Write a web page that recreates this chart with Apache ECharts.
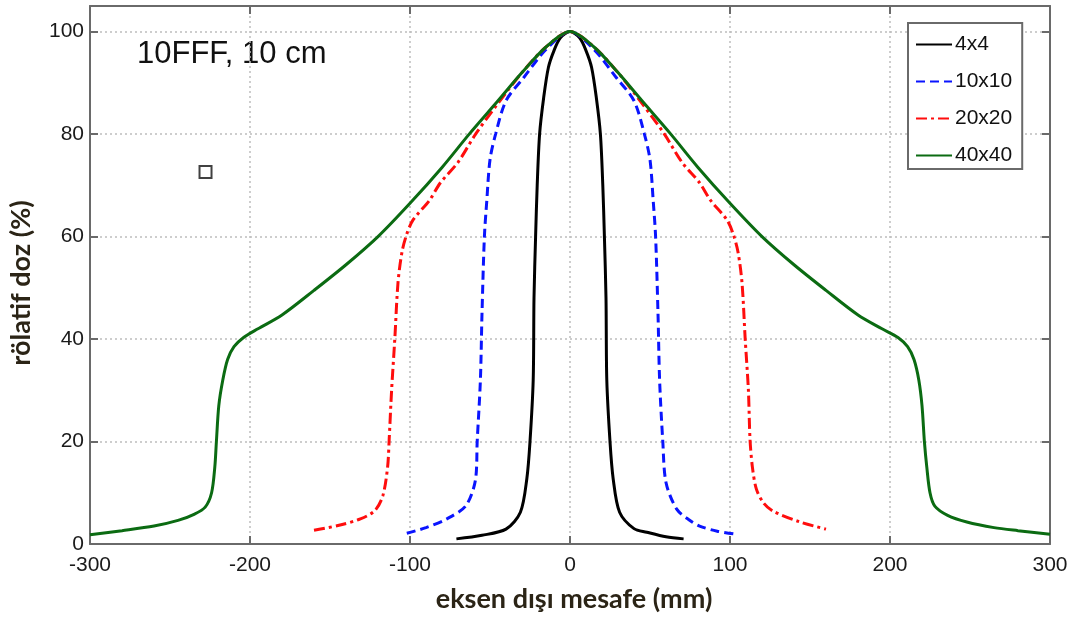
<!DOCTYPE html>
<html>
<head>
<meta charset="utf-8">
<script src="https://cdn.jsdelivr.net/npm/echarts@6/dist/echarts.min.js"></script>
<style>
  html, body { margin: 0; padding: 0; background: #fff; }
  #chart { width: 1079px; height: 618px; }
</style>
</head>
<body>
<div id="chart"></div>
<script>
// Off-axis profiles, 10FFF at 10 cm depth: [mm, %]
const field4x4 = [
  [-71, 1], [-55, 1.7], [-40, 2.9], [-31, 6.2], [-27, 12.7], [-25, 20], [-23, 32],
  [-22.5, 48], [-21.5, 60], [-20.5, 70], [-19, 80], [-16.5, 87], [-13.5, 93],
  [-10, 96.3], [-6, 98.8], [0, 100], [6, 98.8], [10, 96.3], [13.5, 93], [16.5, 87],
  [19, 80], [20.5, 70], [21.5, 60], [22.5, 48], [23, 32], [25, 20], [27, 12.7],
  [31, 6.2], [40, 3], [48, 2.3], [60, 1.4], [71, 1]
];
const field10x10 = [
  [-102, 2.1], [-90, 3.2], [-77, 4.9], [-65, 7.5], [-59, 12.7], [-58, 20], [-56, 32],
  [-55, 45], [-53.5, 60], [-52, 67], [-50, 75], [-46.5, 80], [-40, 86.5], [-29, 91],
  [-15, 96.5], [0, 100], [15, 96.5], [29, 91], [40, 86.5], [46.5, 80], [50, 75],
  [52, 67], [53.5, 60], [55, 45], [56, 32], [58, 20], [60, 12], [66.7, 6.8],
  [75, 4.6], [81, 3.5], [92, 2.5], [104, 1.9]
];
const field20x20 = [
  [-160, 2.7], [-145, 3.6], [-131, 4.9], [-122, 6.5], [-117, 9.4], [-114, 15],
  [-113, 20.5], [-111.5, 30], [-109.5, 40], [-107.5, 51], [-105, 57], [-102, 60.5],
  [-98, 63.3], [-88, 67], [-81, 70.5], [-70, 74.5], [-59, 80], [-45, 86], [-30, 92],
  [-15, 97], [0, 100], [15, 97], [30, 92], [45, 86], [59, 80], [70, 74.5], [81, 70.5],
  [88, 67], [98, 63.3], [102, 60.5], [105, 57], [107.5, 51], [109.5, 40], [111.5, 30],
  [112.5, 20.5], [114, 15], [116.5, 10.7], [121, 8], [127, 6.4], [143.75, 4.3],
  [160, 2.9]
];
const field40x40 = [
  [-300, 1.8], [-280, 2.6], [-260, 3.5], [-245, 4.6], [-235, 5.8], [-228, 7.2],
  [-224, 10], [-222, 15], [-221, 20], [-219.5, 27], [-217, 32], [-214, 36],
  [-210, 38.5], [-204, 40.3], [-195, 42], [-180, 44.7], [-160, 49.5], [-140, 54.5],
  [-120, 60], [-100, 66.5], [-80, 73.5], [-63, 80], [-45, 86.5], [-30, 92], [-15, 97],
  [0, 100], [15, 97], [30, 92], [45, 86.5], [63, 80], [80, 73.5], [100, 66.5],
  [120, 60], [140, 54.5], [160, 49.5], [180, 44.7], [195, 42], [205, 40.3],
  [211, 38.5], [215, 36], [218, 32], [220, 27], [221.5, 20], [223, 15], [225, 10],
  [228, 7.4], [236, 5.6], [248, 4.3], [265, 3.2], [280, 2.6], [300, 1.9]
];
const marker = [[-227.8, 72.6]];

const seriesNames = ['4x4', '10x10', '20x20', '40x40'];
const xTicks = { min: -300, max: 300, step: 100 };
const yTicks = { min: 0, max: 105, step: 20 };

const chart = echarts.init(document.getElementById('chart'));

const tickFont = { fontFamily: 'Liberation Sans, Arial, sans-serif', fontSize: 21, color: '#1a1a1a' };
const titleFont = { fontFamily: 'Lato, sans-serif', fontSize: 27, fontWeight: 'bold', color: '#2b2416' };
const boxLine = { color: '#6a6a6a', width: 2 };
const gridLine = { color: '#bdbdbd', width: 1.5, type: [2, 3] };

function lineSeries(name, data, color, type) {
  return {
    name, type: 'line', data,
    showSymbol: false, symbol: 'none',
    smooth: 0.3,
    lineStyle: { color, width: 3, type },
    itemStyle: { color },
    z: 3
  };
}

chart.setOption({
  backgroundColor: '#fff',
  animation: false,
  grid: { left: 90, right: 29, top: 6, bottom: 73 },
  graphic: [{
    type: 'text', x: 137, y: 54,
    style: {
      text: '10FFF, 10 cm', fill: '#111',
      font: '31px "Liberation Sans", Arial, sans-serif',
      textVerticalAlign: 'middle'
    }
  }],
  legend: {
    data: seriesNames,
    orient: 'vertical',
    left: 908, top: 23,
    padding: [11, 10, 3, 7],
    itemWidth: 36, itemHeight: 14, itemGap: 16,
    backgroundColor: '#fff',
    borderColor: '#6a6a6a', borderWidth: 2,
    itemStyle: { opacity: 0 },
    textStyle: { fontFamily: 'Liberation Sans, Arial, sans-serif', fontSize: 21, color: '#111', padding: [0, 0, 0, -2] }
  },
  xAxis: [{
    type: 'value', min: xTicks.min, max: xTicks.max, interval: xTicks.step,
    name: 'eksen dışı mesafe (mm)', nameLocation: 'middle', nameGap: 42,
    nameTextStyle: Object.assign({ padding: [0, 0, 0, 8] }, titleFont),
    axisLine: { onZero: false, lineStyle: boxLine },
    axisTick: { inside: true, length: 8, lineStyle: boxLine },
    axisLabel: Object.assign({ margin: 11 }, tickFont),
    splitLine: { show: true, lineStyle: gridLine }
  }, {
    type: 'value', position: 'top', min: xTicks.min, max: xTicks.max, interval: xTicks.step,
    axisLine: { show: true, onZero: false, lineStyle: boxLine },
    axisTick: { show: true, inside: true, length: 8, lineStyle: boxLine },
    axisLabel: { show: false }, splitLine: { show: false }
  }],
  yAxis: [{
    type: 'value', min: yTicks.min, max: yTicks.max, interval: yTicks.step,
    name: 'rölatif doz (%)', nameLocation: 'middle', nameGap: 55, nameRotate: 90,
    nameTextStyle: Object.assign({ padding: [0, 16, 0, 0] }, titleFont),
    axisLine: { show: true, onZero: false, lineStyle: boxLine },
    axisTick: { show: true, inside: true, length: 8, lineStyle: boxLine },
    axisLabel: Object.assign({ margin: 6, showMaxLabel: false }, tickFont),
    splitLine: { show: true, lineStyle: gridLine }
  }, {
    type: 'value', position: 'right', min: yTicks.min, max: yTicks.max, interval: yTicks.step,
    axisLine: { show: true, onZero: false, lineStyle: boxLine },
    axisTick: { show: true, inside: true, length: 8, lineStyle: boxLine },
    axisLabel: { show: false }, splitLine: { show: false }
  }],
  series: [
    lineSeries('4x4', field4x4, '#000000', 'solid'),
    lineSeries('10x10', field10x10, '#0a14ff', [9, 5]),
    lineSeries('20x20', field20x20, '#ff0d0d', [11, 4, 3, 4]),
    lineSeries('40x40', field40x40, '#0b6b12', 'solid'),
    {
      type: 'scatter', data: marker, symbol: 'rect', symbolSize: 12,
      itemStyle: { color: '#fff', borderColor: '#111', borderWidth: 2 }, z: 4
    }
  ]
});
</script>
</body>
</html>
